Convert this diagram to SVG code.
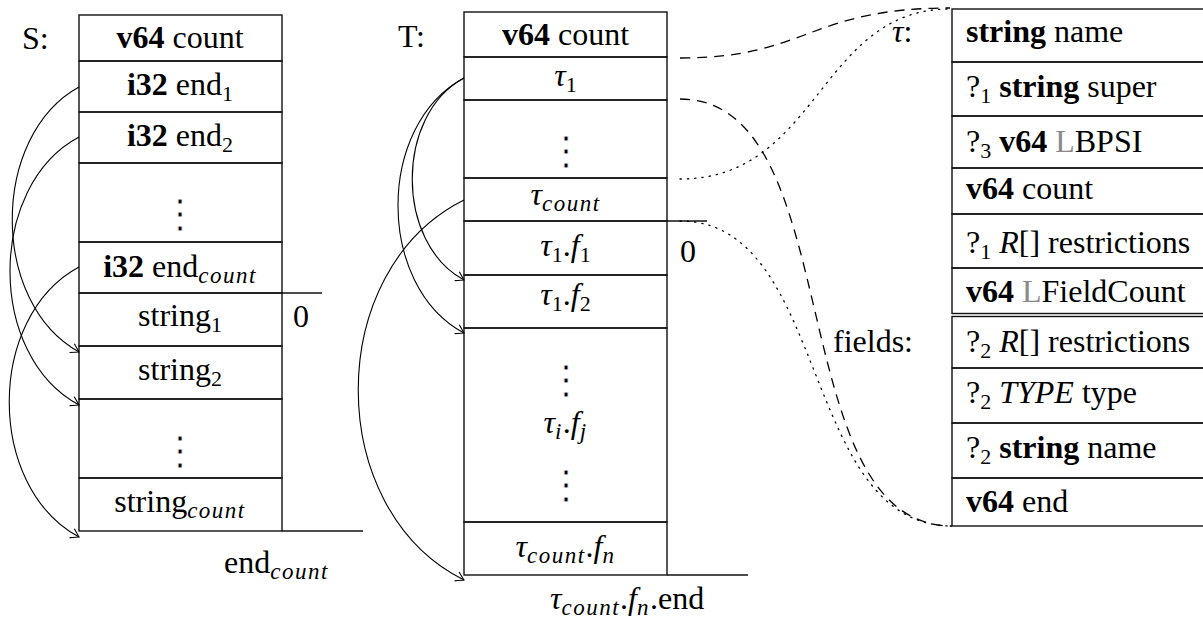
<svg xmlns="http://www.w3.org/2000/svg" width="1203" height="621" viewBox="0 0 1203 621">
<style>
text{font-family:"Liberation Serif","Times New Roman",serif;font-size:32px;fill:#000}
.c{text-anchor:middle}
.b{font-weight:bold}
.i{font-style:italic}
.s{font-size:22px}
.m{font-size:23px;font-style:italic;letter-spacing:1.5px}
.g{fill:#8a8a8a}
.vd{font-family:"DejaVu Serif",serif;font-size:40px;stroke:#fff;stroke-width:0.9}
rect{fill:none;stroke:#111;stroke-width:1.4}
.ln{stroke:#111;stroke-width:1.4;fill:none}
.arc{fill:none;stroke:#000;stroke-width:1.1}
.dash{fill:none;stroke:#000;stroke-width:1.3;stroke-dasharray:10 7}
.dot{fill:none;stroke:#000;stroke-width:1.3;stroke-dasharray:1.3 6;stroke-linecap:round}
</style>
<defs>
<marker id="to" markerUnits="userSpaceOnUse" markerWidth="14" markerHeight="14" refX="0" refY="0" viewBox="-10 -7 12 14" orient="auto">
<path d="M-8,-5 Q-2,-1.2 0,0 Q-2,1.2 -8,5" fill="none" stroke="#000" stroke-width="1.1"/>
</marker>
</defs>
<rect x="0" y="0" width="1203" height="621" style="fill:#fff;stroke:none"/>

<g id="label-S"><text x="22" y="49">S:</text></g>
<g id="S-table">
<g id="S-count"><rect x="79" y="15" width="203" height="46"/><text class="c" x="180" y="48"><tspan class="b">v64</tspan> count</text></g>
<g id="S-end1"><rect x="79" y="61" width="203" height="51"/><text class="c" x="180" y="95"><tspan class="b">i32</tspan> end<tspan class="s" dy="6">1</tspan></text></g>
<g id="S-end2"><rect x="79" y="112" width="203" height="51"/><text class="c" x="180" y="146"><tspan class="b">i32</tspan> end<tspan class="s" dy="6">2</tspan></text></g>
<g id="S-dots1"><rect x="79" y="163" width="203" height="79"/><text class="c vd" x="180" y="227">⋮</text></g>
<g id="S-endcount"><rect x="79" y="242" width="203" height="51"/><text class="c" x="180" y="277"><tspan class="b">i32</tspan> end<tspan class="m" dy="6">count</tspan></text></g>
<g id="S-string1"><rect x="79" y="293" width="203" height="53"/><text class="c" x="180" y="326">string<tspan class="s" dy="6">1</tspan></text></g>
<g id="S-string2"><rect x="79" y="346" width="203" height="53"/><text class="c" x="180" y="380">string<tspan class="s" dy="6">2</tspan></text></g>
<g id="S-dots2"><rect x="79" y="399" width="203" height="79"/><text class="c vd" x="180" y="464">⋮</text></g>
<g id="S-stringcount"><rect x="79" y="478" width="203" height="53"/><text class="c" x="180" y="512">string<tspan class="m" dy="6">count</tspan></text></g>
<line class="ln" x1="282" y1="293" x2="322" y2="293"/>
<line class="ln" x1="282" y1="531" x2="363" y2="531"/>
<text x="293" y="327">0</text>
<text x="224" y="573">end<tspan class="m" dy="6">count</tspan></text>
</g>

<g id="label-T"><text x="398" y="47">T:</text></g>
<g id="T-table">
<g id="T-count"><rect x="464" y="12" width="203" height="45"/><text class="c" x="565.5" y="45"><tspan class="b">v64</tspan> count</text></g>
<g id="T-tau1"><rect x="464" y="57" width="203" height="43"/><text class="c" x="565.5" y="86"><tspan class="i">τ</tspan><tspan class="s" dy="6">1</tspan></text></g>
<g id="T-dots1"><rect x="464" y="100" width="203" height="78"/><text class="c vd" x="565.5" y="164">⋮</text></g>
<g id="T-taucount"><rect x="464" y="178" width="203" height="43"/><text class="c" x="565.5" y="205"><tspan class="i">τ</tspan><tspan class="m" dy="6">count</tspan></text></g>
<g id="T-t1f1"><rect x="464" y="221" width="203" height="54"/><text class="c" x="565.5" y="256"><tspan class="i">τ</tspan><tspan class="s" dy="6">1</tspan><tspan dy="-6">.</tspan><tspan class="i">f</tspan><tspan class="s" dy="6">1</tspan></text></g>
<g id="T-t1f2"><rect x="464" y="275" width="203" height="53"/><text class="c" x="565.5" y="305"><tspan class="i">τ</tspan><tspan class="s" dy="6">1</tspan><tspan dy="-6">.</tspan><tspan class="i">f</tspan><tspan class="s" dy="6">2</tspan></text></g>
<g id="T-tifj"><rect x="464" y="328" width="203" height="194"/>
<text class="c vd" x="565.5" y="393">⋮</text>
<text class="c" x="565.5" y="433"><tspan class="i">τ</tspan><tspan class="m" dy="6">i</tspan><tspan dy="-6">.</tspan><tspan class="i">f</tspan><tspan class="m" dy="6">j</tspan></text>
<text class="c vd" x="565.5" y="498">⋮</text></g>
<g id="T-tcfn"><rect x="464" y="522" width="203" height="53"/><text class="c" x="565.5" y="557"><tspan class="i">τ</tspan><tspan class="m" dy="6">count</tspan><tspan dy="-6">.</tspan><tspan class="i">f</tspan><tspan class="m" dy="6">n</tspan></text></g>
<line class="ln" x1="667" y1="221" x2="707" y2="221"/>
<line class="ln" x1="667" y1="575" x2="748" y2="575"/>
<text x="680" y="262">0</text>
<text x="550" y="609"><tspan class="i">τ</tspan><tspan class="m" dy="6">count</tspan><tspan dy="-6">.</tspan><tspan class="i">f</tspan><tspan class="m" dy="6">n</tspan><tspan dy="-6">.end</tspan></text>
</g>

<g id="label-tau"><text x="892" y="42"><tspan class="i">τ</tspan>:</text></g>
<g id="label-fields"><text x="833" y="352">fields:</text></g>
<g id="Tau-table">
<g id="r-name"><rect x="952" y="9" width="270" height="53"/><text x="966" y="42"><tspan class="b">string</tspan> name</text></g>
<g id="r-super"><rect x="952" y="62" width="270" height="54"/><text x="966" y="97">?<tspan class="s" dy="6">1</tspan><tspan dy="-6"> </tspan><tspan class="b">string</tspan> super</text></g>
<g id="r-lbpsi"><rect x="952" y="116" width="270" height="52"/><text x="966" y="152">?<tspan class="s" dy="6">3</tspan><tspan dy="-6"> </tspan><tspan class="b">v64</tspan> <tspan class="g">L</tspan>BPSI</text></g>
<g id="r-count"><rect x="952" y="168" width="270" height="46"/><text x="966" y="199"><tspan class="b">v64</tspan> count</text></g>
<g id="r-restr1"><rect x="952" y="214" width="270" height="54"/><text x="966" y="253">?<tspan class="s" dy="6">1</tspan><tspan dy="-6"> </tspan><tspan class="i">R</tspan>[] restrictions</text></g>
<g id="r-fieldcount"><rect x="952" y="268" width="270" height="45.5"/><text x="966" y="302"><tspan class="b">v64</tspan> <tspan class="g">L</tspan>FieldCount</text></g>
<g id="r-restr2"><rect x="952" y="316.5" width="270" height="51.5"/><text x="966" y="352">?<tspan class="s" dy="6">2</tspan><tspan dy="-6"> </tspan><tspan class="i">R</tspan>[] restrictions</text></g>
<g id="r-type"><rect x="952" y="368" width="270" height="55"/><text x="966" y="403">?<tspan class="s" dy="6">2</tspan><tspan dy="-6"> </tspan><tspan class="i">TYPE</tspan> type</text></g>
<g id="r-fname"><rect x="952" y="423" width="270" height="55"/><text x="966" y="458">?<tspan class="s" dy="6">2</tspan><tspan dy="-6"> </tspan><tspan class="b">string</tspan> name</text></g>
<g id="r-end"><rect x="952" y="478" width="270" height="48"/><text x="966" y="512"><tspan class="b">v64</tspan> end</text></g>
</g>

<g id="connectors">
<path class="arc" d="M79,87 C-10,136 -10,303 79,352" marker-end="url(#to)"/>
<path class="arc" d="M79,137 C-13,186 -13,356 79,405" marker-end="url(#to)"/>
<path class="arc" d="M79,267 C-14,317 -14,487 79,537" marker-end="url(#to)"/>
<path class="arc" d="M464,78 C395,115 395,243 464,280" marker-end="url(#to)"/>
<path class="arc" d="M464,78 C376,125 376,286 464,333" marker-end="url(#to)"/>
<path class="arc" d="M464,200 C323,270 323,510 464,580" marker-end="url(#to)"/>
<path class="dash" d="M680,58 C808,58 808,8 950,8"/>
<path class="dot" d="M680,179 C819,179 819,9 950,9"/>
<path class="dash" d="M680,99 C850,99 780,526 952,526"/>
<path class="dot" d="M680,221 C830,221 800,526 952,526"/>
</g>
</svg>
